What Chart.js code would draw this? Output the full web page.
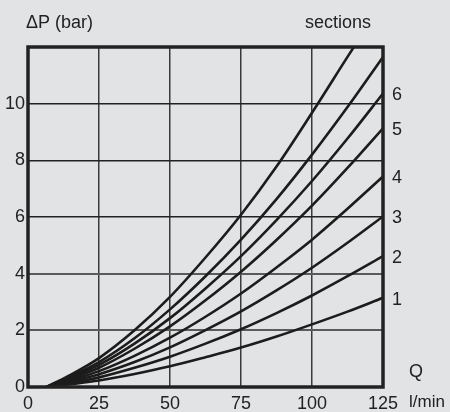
<!DOCTYPE html>
<html><head><meta charset="utf-8">
<script src="https://cdn.jsdelivr.net/npm/chart.js@4/dist/chart.umd.min.js"></script>
<style>html,body{margin:0;padding:0;background:#e2e3e5;}#wrap{width:450px;height:412px;position:relative;}</style>
</head><body><div id="wrap"><canvas id="c" width="450" height="412"></canvas></div>
<script>
// Flow Q (l/min) at which values were read
const flow = [6.5, 15, 25, 37.5, 50, 62.5, 75, 87.5, 100, 112.5, 125];
// Pressure drop ΔP (bar) per number of sections
const sec1 = [0, 0.10, 0.23, 0.46, 0.73, 1.05, 1.39, 1.78, 2.21, 2.66, 3.15];
const sec2 = [0, 0.14, 0.34, 0.68, 1.07, 1.53, 2.04, 2.61, 3.23, 3.91, 4.62];
const sec3 = [0, 0.19, 0.45, 0.88, 1.40, 2.01, 2.67, 3.41, 4.21, 5.09, 6.02];
const sec4 = [0, 0.24, 0.56, 1.10, 1.74, 2.48, 3.30, 4.22, 5.20, 6.29, 7.43];
const sec5 = [0, 0.29, 0.68, 1.35, 2.14, 3.06, 4.07, 5.19, 6.40, 7.73, 9.13];
const sec6 = [0, 0.33, 0.78, 1.53, 2.43, 3.48, 4.62, 5.89, 7.27, 8.77, 10.36];
const sec7 = [0, 0.37, 0.88, 1.72, 2.74, 3.91, 5.20, 6.63, 8.20, 9.88, 11.65];
const sec8 = [0, 0.43, 1.02, 2.00, 3.18, 4.57, 6.08, 7.78, 9.68, 11.65, 13.6];
const allSeries = [sec1, sec2, sec3, sec4, sec5, sec6, sec7, sec8];
const sectionLabels = ['1', '2', '3', '4', '5', '6', '', ''];
const xTickValues = [0, 25, 50, 75, 100, 125];
const yTickValues = [0, 2, 4, 6, 8, 10];

const INK = '#222';
const FONT = "'Liberation Sans', Arial, sans-serif";

const datasets = allSeries.map((s, i) => ({
  label: sectionLabels[i],
  data: flow.map((q, j) => ({x: q, y: s[j]})),
  borderColor: '#1c1c1c',
  borderWidth: 2.6,
  pointRadius: 0,
  fill: false,
  cubicInterpolationMode: 'monotone',
  clip: 0
}));

const decor = {
  id: 'decor',
  afterDatasetsDraw(chart) {
    const {ctx, chartArea: a} = chart;
    ctx.save();
    ctx.strokeStyle = INK;
    ctx.lineWidth = 3.5;
    ctx.strokeRect(a.left, a.top, a.right - a.left, a.bottom - a.top);
    ctx.restore();
  },
  afterDraw(chart) {
    const {ctx, chartArea: a, scales} = chart;
    ctx.save();
    ctx.fillStyle = INK;
    ctx.font = '18px ' + FONT;
    ctx.textBaseline = 'middle';
    ctx.textAlign = 'left';
    ctx.fillText('\u0394P (bar)', 26, 23);
    ctx.fillText('sections', 305, 23);
    ctx.fillText('Q', 409, 372);
    ctx.font = '17px ' + FONT;
    ctx.fillText('l/min', 409, 402);
    ctx.font = '18px ' + FONT;
    allSeries.forEach((s, i) => {
      if (!sectionLabels[i]) return;
      const y = scales.y.getPixelForValue(s[s.length - 1]);
      ctx.fillText(sectionLabels[i], a.right + 9, y + 2);
    });
    ctx.restore();
  }
};

new Chart(document.getElementById('c'), {
  type: 'line',
  data: {datasets},
  options: {
    responsive: false,
    devicePixelRatio: 1,
    animation: false,
    layout: {padding: {top: 47, right: 67, left: 0, bottom: 0}},
    plugins: {legend: {display: false}, tooltip: {enabled: false}},
    scales: {
      x: {
        type: 'linear', min: 0, max: 125,
        afterFit(s) { s.height = 25; },
        afterBuildTicks(s) { s.ticks = xTickValues.map(v => ({value: v})); },
        ticks: {color: INK, font: {size: 18, family: FONT}, padding: 6, maxRotation: 0,
                callback: v => String(v)},
        grid: {color: '#3a3a3a', lineWidth: 1.5, drawTicks: false},
        border: {display: false}
      },
      y: {
        type: 'linear', min: 0, max: 12,
        afterFit(s) { s.width = 28; },
        afterBuildTicks(s) { s.ticks = yTickValues.map(v => ({value: v})); },
        ticks: {color: INK, font: {size: 18, family: FONT}, padding: 3,
                callback: v => String(v)},
        grid: {
          color: c => (c.tick && (c.tick.value === 2 || c.tick.value === 4)) ? '#5a5a5a' : '#222',
          lineWidth: c => (c.tick && (c.tick.value === 2 || c.tick.value === 4)) ? 2 : 1.5,
          drawTicks: false
        },
        border: {display: false}
      }
    }
  },
  plugins: [decor]
});
</script>
</body></html>
